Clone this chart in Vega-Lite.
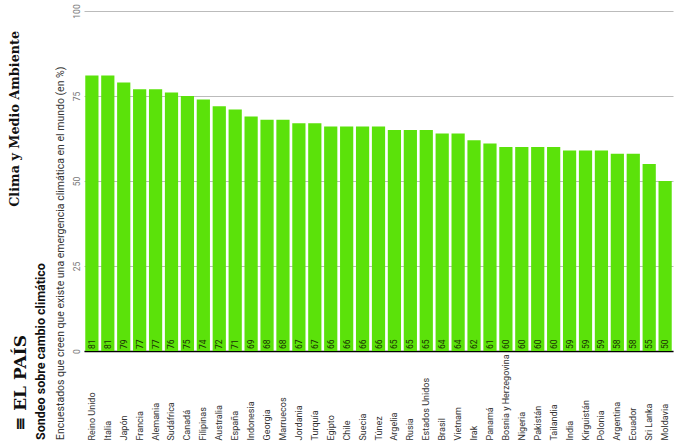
{
  "$schema": "https://vega.github.io/schema/vega-lite/v6.json",
  "padding": {"left": 9, "top": 3, "right": 5, "bottom": 5},
  "background": "white",
  "config": {"view": {"stroke": null}, "font": "Roboto", "concat": {"spacing": 0}},
  "title": {"text": "≡  EL PAÍS", "orient": "left", "anchor": "start", "font": "DejaVu Serif", "fontSize": 17, "fontWeight": "bold", "color": "#111111", "offset": -21, "dx": 9},
  "hconcat": [
    {
      "title": {"text": "Clima y Medio Ambiente", "orient": "left", "anchor": "end", "font": "DejaVu Serif", "fontSize": 12.8, "fontWeight": "bold", "color": "#111111", "offset": 13, "dx": -27},
      "hconcat": [
        {
          "title": {
            "text": "Sondeo sobre cambio climático",
            "subtitle": "Encuestados que creen que existe una emergencia climática en el mundo (en %)",
            "orient": "left", "anchor": "start",
            "font": "Roboto", "fontSize": 12.5, "fontWeight": "bold", "color": "#111111",
            "subtitleFont": "Roboto", "subtitleFontSize": 10.5, "subtitleColor": "#333333",
            "subtitlePadding": 8, "offset": 6
          },
          "width": 589,
          "height": 340,
          "data": {"values": [
            {"pais": "Reino Unido", "valor": 81},
            {"pais": "Italia", "valor": 81},
            {"pais": "Japón", "valor": 79},
            {"pais": "Francia", "valor": 77},
            {"pais": "Alemania", "valor": 77},
            {"pais": "Sudáfrica", "valor": 76},
            {"pais": "Canadá", "valor": 75},
            {"pais": "Filipinas", "valor": 74},
            {"pais": "Australia", "valor": 72},
            {"pais": "España", "valor": 71},
            {"pais": "Indonesia", "valor": 69},
            {"pais": "Georgia", "valor": 68},
            {"pais": "Marruecos", "valor": 68},
            {"pais": "Jordania", "valor": 67},
            {"pais": "Turquía", "valor": 67},
            {"pais": "Egipto", "valor": 66},
            {"pais": "Chile", "valor": 66},
            {"pais": "Suecia", "valor": 66},
            {"pais": "Túnez", "valor": 66},
            {"pais": "Argelia", "valor": 65},
            {"pais": "Rusia", "valor": 65},
            {"pais": "Estados Unidos", "valor": 65},
            {"pais": "Brasil", "valor": 64},
            {"pais": "Vietnam", "valor": 64},
            {"pais": "Irak", "valor": 62},
            {"pais": "Panamá", "valor": 61},
            {"pais": "Bosnia y Herzegovina", "valor": 60},
            {"pais": "Nigeria", "valor": 60},
            {"pais": "Pakistán", "valor": 60},
            {"pais": "Tailandia", "valor": 60},
            {"pais": "India", "valor": 59},
            {"pais": "Kirguistán", "valor": 59},
            {"pais": "Polonia", "valor": 59},
            {"pais": "Argentina", "valor": 58},
            {"pais": "Ecuador", "valor": 58},
            {"pais": "Sri Lanka", "valor": 55},
            {"pais": "Moldavia", "valor": 50}
          ]},
          "encoding": {
            "x": {
              "field": "pais", "type": "nominal", "sort": null,
              "scale": {"paddingInner": 0.17, "paddingOuter": 0.08},
              "axis": {
                "title": null, "labelAngle": -90, "labelAlign": "left", "labelBaseline": "middle",
                "labelPadding": 89, "ticks": false, "labelFontSize": 9, "labelColor": "#333333",
                "labelOverlap": false, "domainColor": "#000000", "domainWidth": 1.5, "labelFont": "Roboto"
              }
            }
          },
          "layer": [
            {
              "mark": {"type": "bar", "color": "#5be20a"},
              "encoding": {
                "y": {
                  "field": "valor", "type": "quantitative",
                  "scale": {"domain": [0, 100]},
                  "axis": {
                    "title": null, "values": [0, 25, 50, 75, 100], "labelAngle": -90,
                    "labelAlign": "center", "labelBaseline": "bottom", "labelPadding": 3,
                    "ticks": false, "domain": false, "labelFontSize": 8.5, "labelColor": "#777777",
                    "gridColor": "#bbbbbb", "gridWidth": 1.2
                  }
                }
              }
            },
            {
              "mark": {"type": "text", "angle": 270, "align": "left", "baseline": "middle", "dx": 2, "fontSize": 8.5, "color": "#1a3304"},
              "encoding": {
                "y": {"datum": 0, "type": "quantitative"},
                "text": {"field": "valor", "type": "quantitative"}
              }
            }
          ]
        }
      ]
    }
  ]
}
